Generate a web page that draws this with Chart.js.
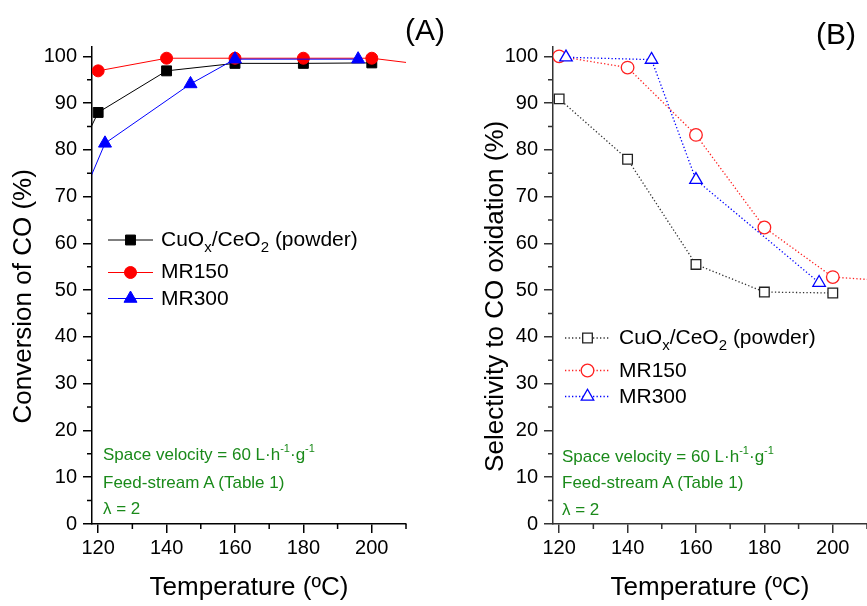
<!DOCTYPE html>
<html lang="en">
<head>
<meta charset="UTF-8" />
<title>CO conversion and selectivity</title>
<script src="https://cdn.jsdelivr.net/npm/chart.js"></script>
<style>
  body { margin: 0; background: #fff; font-family: "Liberation Sans", Arial, sans-serif; }
  #wrap { position: relative; width: 867px; height: 606px; overflow: hidden; }
  canvas { position: absolute; top: 0; }
  #cA { left: 0; }
  #cB { left: 440px; }
  .txt { position: absolute; white-space: nowrap; color: #000; }
  .leg { font-size: 21px; line-height: 24px; }
  .note { font-size: 17px; line-height: 20px; color: #1a8a1a; }
  .panel { font-size: 30px; line-height: 34px; }
  .sub { font-size: 15px; position: relative; top: 6px; line-height: 0; }
  .sup { font-size: 11px; position: relative; top: -8px; line-height: 0; }
</style>
</head>
<body>
<div id="wrap">
  <canvas id="cA" width="440" height="606"></canvas>
  <canvas id="cB" width="460" height="606"></canvas>

  <div class="txt panel" style="left:405px; top:13px">(A)</div>
  <div class="txt panel" style="left:816px; top:17px">(B)</div>

  <div class="txt leg" style="left:161px; top:227px">CuO<span class="sub">x</span>/CeO<span class="sub">2</span> (powder)</div>
  <div class="txt leg" style="left:161px; top:259px">MR150</div>
  <div class="txt leg" style="left:161px; top:286px">MR300</div>

  <div class="txt leg" style="left:619px; top:325px">CuO<span class="sub">x</span>/CeO<span class="sub">2</span> (powder)</div>
  <div class="txt leg" style="left:619px; top:358px">MR150</div>
  <div class="txt leg" style="left:619px; top:384px">MR300</div>

  <div class="txt note" style="left:103px; top:445px">Space velocity = 60 L&middot;h<span class="sup">-1</span>&middot;g<span class="sup">-1</span></div>
  <div class="txt note" style="left:103px; top:473px">Feed-stream A (Table 1)</div>
  <div class="txt note" style="left:103px; top:499px">&lambda; = 2</div>

  <div class="txt note" style="left:562px; top:447px">Space velocity = 60 L&middot;h<span class="sup">-1</span>&middot;g<span class="sup">-1</span></div>
  <div class="txt note" style="left:562px; top:473px">Feed-stream A (Table 1)</div>
  <div class="txt note" style="left:562px; top:500px">&lambda; = 2</div>
</div>

<script>
// ticks
const xMajor = [120, 140, 160, 180, 200];
const xMinor = [130, 150, 170, 190, 210];
const yMajor = [0, 10, 20, 30, 40, 50, 60, 70, 80, 90, 100];
const yMinor = [5, 15, 25, 35, 45, 55, 65, 75, 85, 95];

// (A) conversion of CO (%), first/last points lie just outside the axes
const tempCuA = [110, 120, 140, 160, 180, 200];
const convCu = [73.0, 88.0, 96.9, 98.5, 98.5, 98.6];
const tempMR150A = [120, 140, 160, 180, 200, 220];
const convMR150 = [96.9, 99.6, 99.6, 99.6, 99.6, 97.8];
const tempMR300A = [110, 122, 147, 160, 196];
const convMR300 = [60.7, 81.4, 94.1, 99.4, 99.4];

// (B) selectivity to CO oxidation (%)
const tempCuB = [120, 140, 160, 180, 200];
const selCu = [90.9, 78.0, 55.5, 49.6, 49.4];
const tempMR150B = [120, 140, 160, 180, 200, 220];
const selMR150 = [100, 97.6, 83.2, 63.4, 52.8, 51.8];
const tempMR300B = [122, 147, 160, 196];
const selMR300 = [99.8, 99.3, 73.6, 51.6];

const seriesNames = ['CuOx/CeO2 (powder)', 'MR150', 'MR300'];
const family = "'Liberation Sans', Arial, sans-serif";

const pts = (xs, ys) => xs.map((x, i) => ({ x: x, y: ys[i] }));

function drawMarker(ctx, ds, x, y) {
  const r = ds.pointRadius;
  ctx.fillStyle = ds.pointBackgroundColor;
  ctx.strokeStyle = ds.pointBorderColor;
  ctx.lineWidth = ds.pointBorderWidth;
  ctx.beginPath();
  if (ds.pointStyle === 'rect') {
    const h = r * Math.SQRT1_2;
    ctx.rect(x - h, y - h, 2 * h, 2 * h);
  } else if (ds.pointStyle === 'triangle') {
    ctx.moveTo(x, y - r);
    ctx.lineTo(x + r * 0.866, y + r / 2);
    ctx.lineTo(x - r * 0.866, y + r / 2);
    ctx.closePath();
  } else {
    ctx.arc(x, y, r, 0, Math.PI * 2);
  }
  ctx.fill();
  ctx.stroke();
}

// short ticks between the labelled ones
const minorTicks = {
  id: 'minorTicks',
  afterDraw(chart, args, opts) {
    const { ctx, chartArea: a, scales: { x, y } } = chart;
    ctx.save();
    ctx.strokeStyle = opts.color;
    ctx.lineWidth = 1.5;
    ctx.beginPath();
    xMinor.forEach(v => {
      const p = x.getPixelForValue(v);
      ctx.moveTo(p, a.bottom); ctx.lineTo(p, a.bottom + 5);
    });
    yMinor.forEach(v => {
      const p = y.getPixelForValue(v);
      ctx.moveTo(a.left, p); ctx.lineTo(a.left - 5, p);
    });
    ctx.stroke();
    ctx.restore();
  }
};

// line + marker legend symbols (labels are html)
const lineLegend = {
  id: 'lineLegend',
  afterDraw(chart, args, opts) {
    const ctx = chart.ctx;
    chart.data.datasets.forEach((ds, i) => {
      const y = opts.rows[i];
      ctx.save();
      ctx.strokeStyle = ds.borderColor;
      ctx.lineWidth = ds.borderWidth;
      ctx.setLineDash(ds.borderDash || []);
      ctx.beginPath();
      ctx.moveTo(opts.x1, y);
      ctx.lineTo(opts.x2, y);
      ctx.stroke();
      ctx.setLineDash([]);
      drawMarker(ctx, ds, (opts.x1 + opts.x2) / 2, y);
      ctx.restore();
    });
  }
};

function axes(color, yTitle, yWidth, titlePad) {
  const tickFont = { size: 20, family: family };
  const titleFont = { size: 26, family: family };
  return {
    x: {
      type: 'linear', min: 118.2, max: 210,
      afterBuildTicks: s => { s.ticks = xMajor.map(v => ({ value: v })); },
      afterFit: s => { s.height = 82; },
      grid: { drawOnChartArea: false, tickLength: 9, color: color, lineWidth: 1.5 },
      border: { color: color, width: 1.5 },
      ticks: { color: '#000', font: tickFont, padding: 3, maxRotation: 0 },
      title: { display: true, text: 'Temperature (ºC)', color: '#000', font: titleFont, padding: { top: 0, bottom: 3 } }
    },
    y: {
      type: 'linear', min: 0, max: 102,
      afterBuildTicks: s => { s.ticks = yMajor.map(v => ({ value: v })); },
      afterFit: s => { s.width = yWidth; },
      grid: { drawOnChartArea: false, tickLength: 9, color: color, lineWidth: 1.5 },
      border: { color: color, width: 1.5 },
      ticks: { color: '#000', font: tickFont, padding: 6 },
      title: { display: true, text: yTitle, color: '#000', font: titleFont, padding: { top: titlePad, bottom: 0 } }
    }
  };
}

// (A) filled markers, solid lines
new Chart(document.getElementById('cA'), {
  type: 'line',
  data: {
    datasets: [
      { label: seriesNames[0], data: pts(tempCuA, convCu), order: 3,
        borderColor: '#000', borderWidth: 1, pointStyle: 'rect', pointRadius: 7,
        pointBackgroundColor: '#000', pointBorderColor: '#000', pointBorderWidth: 1 },
      { label: seriesNames[1], data: pts(tempMR150A, convMR150), order: 2,
        borderColor: '#ff0000', borderWidth: 1, pointStyle: 'circle', pointRadius: 6,
        pointBackgroundColor: '#ff0000', pointBorderColor: '#ff0000', pointBorderWidth: 1 },
      { label: seriesNames[2], data: pts(tempMR300A, convMR300), order: 1,
        borderColor: '#0000ff', borderWidth: 1, pointStyle: 'triangle', pointRadius: 7.5,
        pointBackgroundColor: '#0000ff', pointBorderColor: '#0000ff', pointBorderWidth: 1 }
    ]
  },
  options: {
    responsive: false,
    animation: false,
    layout: { padding: { left: 0, right: 34, top: 47, bottom: 0 } },
    scales: axes('#000', 'Conversion of CO (%)   ', 92, 8),
    plugins: {
      legend: { display: false },
      tooltip: { enabled: false },
      minorTicks: { color: '#000' },
      lineLegend: { x1: 108, x2: 153, rows: [240, 272.5, 298.5] }
    }
  },
  plugins: [minorTicks, lineLegend]
});

// (B) hollow markers, dotted lines; canvas runs past the page edge so the axis ends at 210
new Chart(document.getElementById('cB'), {
  type: 'line',
  data: {
    datasets: [
      { label: seriesNames[0], data: pts(tempCuB, selCu), order: 3,
        borderColor: '#333', borderWidth: 1.3, borderDash: [1.3, 2.2], pointStyle: 'rect', pointRadius: 6.8,
        pointBackgroundColor: '#fff', pointBorderColor: '#222', pointBorderWidth: 1.3 },
      { label: seriesNames[1], data: pts(tempMR150B, selMR150), order: 2,
        borderColor: '#ff2020', borderWidth: 1.3, borderDash: [1.3, 2.2], pointStyle: 'circle', pointRadius: 6.3,
        pointBackgroundColor: '#fff', pointBorderColor: '#ff2020', pointBorderWidth: 1.3 },
      { label: seriesNames[2], data: pts(tempMR300B, selMR300), order: 1,
        borderColor: '#0000ff', borderWidth: 1.3, borderDash: [1.3, 2.2], pointStyle: 'triangle', pointRadius: 7.2,
        pointBackgroundColor: '#fff', pointBorderColor: '#0000ff', pointBorderWidth: 1.3 }
    ]
  },
  options: {
    responsive: false,
    animation: false,
    layout: { padding: { left: 0, right: 33, top: 47, bottom: 0 } },
    scales: axes('#333', 'Selectivity to CO oxidation (%)   ', 113, 40),
    plugins: {
      legend: { display: false },
      tooltip: { enabled: false },
      minorTicks: { color: '#333' },
      lineLegend: { x1: 125, x2: 170, rows: [338, 370.5, 396.5] }
    }
  },
  plugins: [minorTicks, lineLegend]
});
</script>
</body>
</html>
